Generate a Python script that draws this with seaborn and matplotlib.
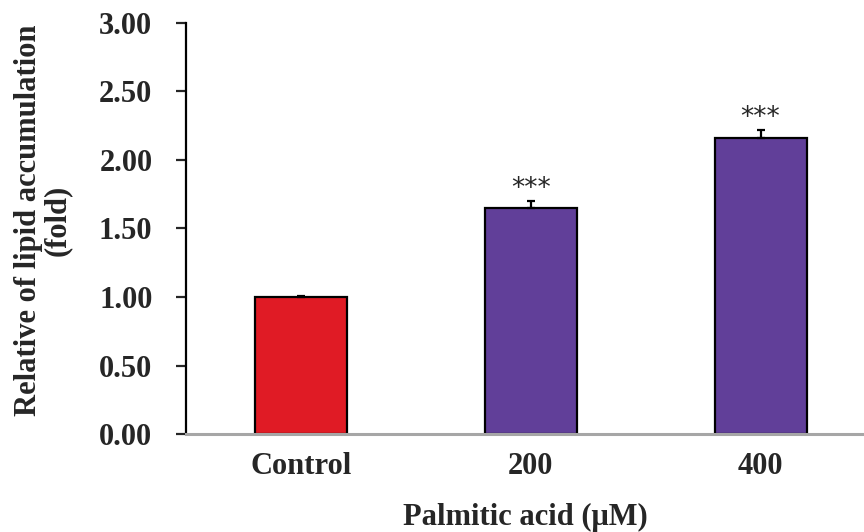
import numpy as np
import pandas as pd
import seaborn as sns
from matplotlib import pyplot as plt

sns.set_style("ticks")
plt.rcParams['font.family'] = ['Liberation Serif', 'DejaVu Serif']

groups = ['Control', '200', '400']
fold = [1.00, 1.65, 2.16]
sem = [0.005, 0.05, 0.06]
stars = ['', '***', '***']
colors = ['#E01B25', '#613F99', '#613F99']

df = pd.DataFrame({'group': groups, 'fold': fold})

fig = plt.figure(figsize=(8.64, 5.32), dpi=100)
ax = fig.add_axes([0.215, 0.184, 0.785, 0.773])

sns.barplot(data=df, x='group', y='fold', hue='group', palette=colors,
            saturation=1, width=0.4, edgecolor='black', linewidth=1.6,
            dodge=False, legend=False, ax=ax)
ax.errorbar(range(len(groups)), fold, yerr=[np.zeros(len(sem)), sem],
            fmt='none', ecolor='black', elinewidth=1.6, capsize=3, capthick=1.6)

for i, s in enumerate(stars):
    if s:
        ax.text(i, fold[i] + sem[i] - 0.01, s, ha='center', va='bottom',
                fontsize=19, family='DejaVu Sans')

ax.set_ylim(0, 3)
ax.set_xlim(-0.5, 2.45)
ax.set_yticks(np.arange(0, 3.01, 0.5))
ax.set_yticklabels([f'{v:.2f}' for v in np.arange(0, 3.01, 0.5)])
ax.tick_params(axis='y', length=7, width=1.6, direction='out', labelsize=22, pad=17)
ax.tick_params(axis='x', length=0, labelsize=22, pad=13)
for lab in ax.get_xticklabels() + ax.get_yticklabels():
    lab.set_fontweight('bold')

sns.despine(ax=ax)
ax.spines['left'].set_linewidth(1.6)
ax.spines['left'].set_color('black')
ax.spines['bottom'].set_linewidth(2.2)
ax.spines['bottom'].set_color('#A6A6A6')

ax.set_ylabel('Relative of lipid accumulation\n(fold)', fontsize=22,
              fontweight='bold', linespacing=1.0)
ax.yaxis.set_label_coords(-0.168, 0.52)
ax.set_xlabel('Palmitic acid (\u03bcM)', fontsize=22, fontweight='bold', labelpad=16)

fig.savefig('out.png', dpi=100)
